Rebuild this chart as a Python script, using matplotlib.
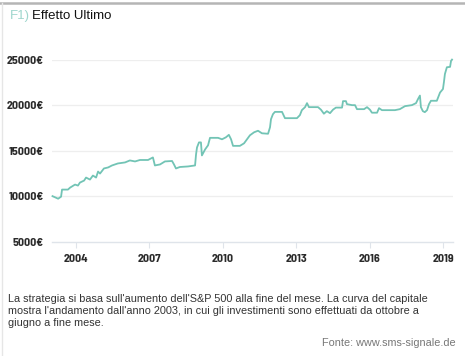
import matplotlib
matplotlib.use("Agg")
import matplotlib.pyplot as plt
from matplotlib.lines import Line2D

# ---- data ----
years = [2003.04, 2003.18, 2003.27, 2003.39, 2003.43, 2003.67, 2003.76, 2003.96, 2004.08, 2004.16,
         2004.33, 2004.41, 2004.57, 2004.69, 2004.82, 2004.90, 2004.98, 2005.14, 2005.31, 2005.47,
         2005.71, 2006.00, 2006.20, 2006.41, 2006.61, 2006.94, 2007.14, 2007.22, 2007.43, 2007.63,
         2007.92, 2008.00, 2008.08, 2008.24, 2008.57, 2008.86, 2008.90, 2008.94, 2009.02, 2009.10,
         2009.14, 2009.27, 2009.39, 2009.47, 2009.80, 2009.96, 2010.12, 2010.24, 2010.33, 2010.41,
         2010.69, 2010.86, 2010.98, 2011.10, 2011.27, 2011.43, 2011.59, 2011.84, 2011.92, 2011.96,
         2012.04, 2012.12, 2012.41, 2012.53, 2013.02, 2013.14, 2013.22, 2013.35, 2013.43, 2013.51,
         2013.88, 2014.00, 2014.12, 2014.24, 2014.37, 2014.49, 2014.61, 2014.86, 2014.90, 2015.02,
         2015.06, 2015.27, 2015.39, 2015.47, 2015.76, 2015.88, 2016.00, 2016.08, 2016.29, 2016.37,
         2016.49, 2017.02, 2017.22, 2017.43, 2017.71, 2017.88, 2017.96, 2018.04, 2018.08, 2018.16,
         2018.24, 2018.33, 2018.41, 2018.49, 2018.73, 2018.86, 2018.98, 2019.02, 2019.06, 2019.14,
         2019.27, 2019.31, 2019.35]
capital = [10000, 9830, 9720, 9940, 10720, 10720, 10940, 11270, 11160, 11490,
           11710, 12040, 11820, 12260, 12040, 12700, 12480, 13040, 13150, 13370,
           13590, 13700, 13920, 13810, 13970, 13970, 14250, 13370, 13480, 13810,
           13860, 13480, 13040, 13200, 13260, 13370, 14580, 15350, 15900, 15900,
           14470, 15130, 15580, 16400, 16400, 16240, 16460, 16730, 16240, 15520,
           15520, 15800, 16240, 16680, 17010, 17180, 16900, 16850, 17560, 18450,
           19000, 19250, 19250, 18560, 18560, 18890, 19440, 19770, 20210, 19770,
           19770, 19490, 19050, 19330, 19110, 19490, 19720, 19720, 20430, 20430,
           20100, 19990, 19990, 19550, 19550, 19770, 19490, 19160, 19160, 19660,
           19440, 19440, 19550, 19880, 19990, 20210, 20650, 21040, 19770, 19330,
           19220, 19440, 20100, 20470, 20470, 21370, 21760, 22530, 23410, 24150,
           24190, 24850, 24990]
y_ticks = [5000, 10000, 15000, 20000, 25000]
y_labels = ["5000€", "10000€", "15000€", "20000€", "25000€"]
x_ticks = [2004, 2007, 2010, 2013, 2016, 2019]
x_labels = ["2004", "2007", "2010", "2013", "2016", "2019"]

title_prefix = "F1)"
title_main = "Effetto Ultimo"
caption = ("La strategia si basa sull'aumento dell'S&P 500 alla fine del mese. La curva del capitale\n"
           "mostra l'andamento dall'anno 2003, in cui gli investimenti sono effettuati da ottobre a\n"
           "giugno a fine mese.")
source = "Fonte: www.sms-signale.de"

W, H = 465, 356
fig = plt.figure(figsize=(W / 100, H / 100), dpi=100)
fig.patch.set_facecolor("white")

ax = fig.add_axes([52 / W, 1 - 241.7 / H, (453 - 52) / W, (241.7 - 59.5) / H])
ax.plot(years, capital, color="#72c4b5", lw=1.3, clip_on=False, zorder=3)
ax.set_xlim(2003.02, 2019.39)
ax.set_ylim(5000, 25000)

tick_font = dict(family=["Barlow Semi Condensed", "DejaVu Sans"], weight=700, size=8.6)
ax.set_yticks(y_ticks)
ax.set_yticklabels(y_labels, **tick_font, color="#2a2a2a")
ax.set_xticks(x_ticks)
ax.set_xticklabels(x_labels, **tick_font, color="#2a2a2a")
ax.tick_params(axis="y", length=0, pad=6)
ax.tick_params(axis="x", length=4, width=0.8, color="#dfe4ea", pad=5, direction="out")

for v in y_ticks[1:]:
    ax.axhline(v, color="#eeeeee", lw=0.9, zorder=1)
for s in ["top", "right", "left"]:
    ax.spines[s].set_visible(False)
ax.spines["bottom"].set_color("#dfe4ea")
ax.spines["bottom"].set_linewidth(1.0)

# title
fig.text(10 / W, 1 - 16 / H, title_prefix, color="#9fd6cd", fontsize=9.5,
         family=["Liberation Sans", "DejaVu Sans"], va="center", ha="left")
fig.text(31.5 / W, 1 - 16 / H, title_main, color="#111111", fontsize=9.5,
         family=["Liberation Sans", "DejaVu Sans"], va="center", ha="left")

# caption
fig.text(8 / W, 1 - 293.5 / H, caption, color="#333333", fontsize=7.85,
         family=["Liberation Sans", "DejaVu Sans"], va="top", ha="left", linespacing=1.27)
fig.text(456 / W, 1 - 343 / H, source, color="#777777", fontsize=7.85,
         family=["Liberation Sans", "DejaVu Sans"], va="center", ha="right")

# frame lines
fig.add_artist(Line2D([0, 1], [1 - 2.5 / H, 1 - 2.5 / H], color="#b5b5b5", lw=1.8, transform=fig.transFigure))
fig.add_artist(Line2D([1.5 / W, 1.5 / W], [0, 1 - 3 / H], color="#e6e6e6", lw=1.0, transform=fig.transFigure))

fig.savefig("out.png", dpi=100, facecolor="white")
